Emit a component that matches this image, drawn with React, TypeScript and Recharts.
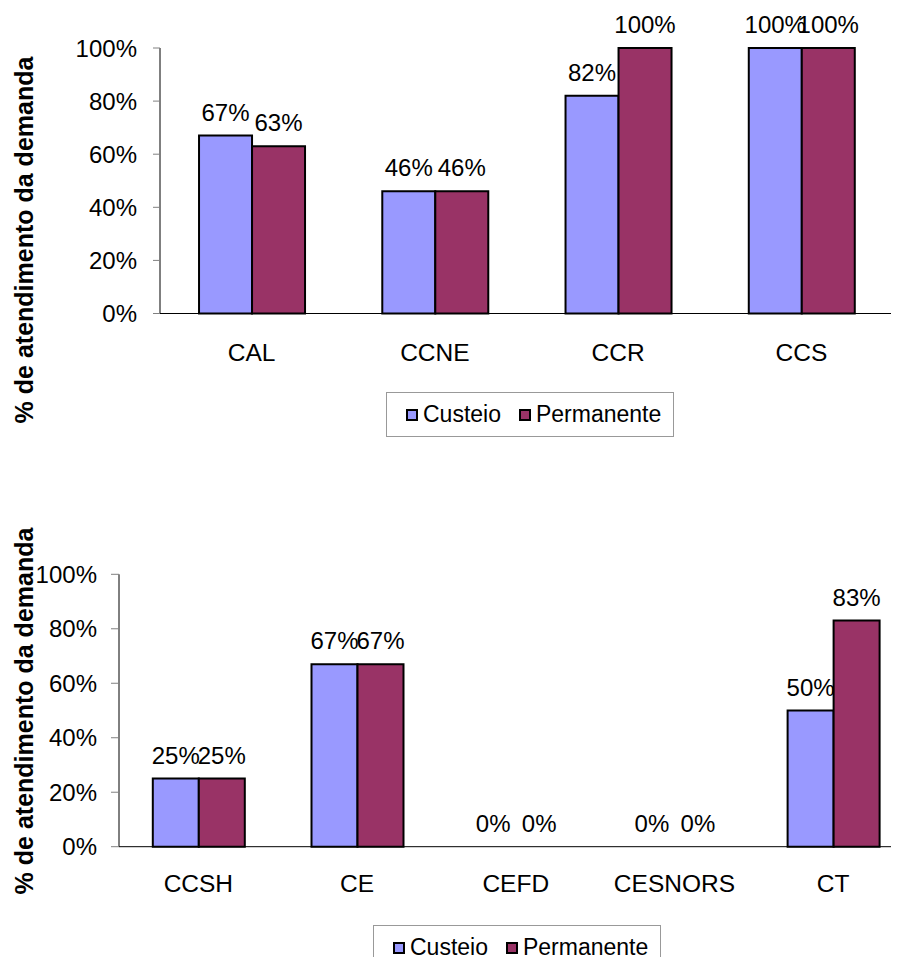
import React from "react";
import {
  BarChart,
  Bar,
  XAxis,
  YAxis,
  LabelList,
  Rectangle,
} from "recharts";

// dados de atendimento da demanda por centro
const centrosA = ["CAL", "CCNE", "CCR", "CCS"];
const custeioA = [0.67, 0.46, 0.82, 1.0];
const permanenteA = [0.63, 0.46, 1.0, 1.0];

const centrosB = ["CCSH", "CE", "CEFD", "CESNORS", "CT"];
const custeioB = [0.25, 0.67, 0, 0, 0.5];
const permanenteB = [0.25, 0.67, 0, 0, 0.83];

const yTicks = [0, 0.2, 0.4, 0.6, 0.8, 1];

const series = [
  { key: "custeio", nome: "Custeio", cor: "#9999FF" },
  { key: "permanente", nome: "Permanente", cor: "#993366" },
];

const FONT = '"Liberation Sans", Arial, sans-serif';
const tituloY = "% de atendimento da demanda";

const pct = (v: number) => `${Math.round(v * 100)}%`;

function montar(centros: string[], custeio: number[], permanente: number[]) {
  return centros.map((centro, i) => ({
    centro,
    custeio: custeio[i],
    permanente: permanente[i],
  }));
}

// barras de valor zero não desenham retângulo, mas mantêm o rótulo
const BarraForma = (props: any) =>
  props.height > 0.5 ? <Rectangle {...props} /> : <g />;

type GraficoProps = {
  centros: string[];
  custeio: number[];
  permanente: number[];
  width: number;
  height: number;
  margin: { top: number; right: number; bottom: number; left: number };
  yWidth: number;
  yTickSize: number;
  yTickMargin: number;
  xTickMargin: number;
};

function Grafico({
  centros,
  custeio,
  permanente,
  width,
  height,
  margin,
  yWidth,
  yTickSize,
  yTickMargin,
  xTickMargin,
}: GraficoProps) {
  const data = montar(centros, custeio, permanente);
  const divisoes = centros.map((_, i) => i).concat(centros.length);

  return (
    <BarChart
      width={width}
      height={height}
      data={data}
      margin={margin}
      barCategoryGap="21.3%"
      barGap={0}
    >
      {/* marcas entre categorias */}
      <XAxis
        xAxisId="div"
        type="number"
        domain={[0, centros.length]}
        ticks={divisoes}
        height={0}
        axisLine={false}
        tickSize={7}
        tickLine={{ stroke: "#808080" }}
        tickFormatter={() => ""}
      />
      <XAxis
        dataKey="centro"
        height={60}
        axisLine={{ stroke: "#000" }}
        tickLine={false}
        tickSize={6}
        tickMargin={xTickMargin}
        tick={{ fill: "#000", fontSize: 24.5, fontFamily: FONT }}
      />
      <YAxis
        width={yWidth}
        domain={[0, 1]}
        ticks={yTicks}
        axisLine={{ stroke: "#000" }}
        tickLine={{ stroke: "#808080" }}
        tickSize={yTickSize}
        tickMargin={yTickMargin}
        tickFormatter={pct}
        tick={{ fill: "#000", fontSize: 24, fontFamily: FONT }}
      />
      {series.map((s) => (
        <Bar
          key={s.key}
          dataKey={s.key}
          name={s.nome}
          fill={s.cor}
          stroke="#000"
          strokeWidth={2}
          minPointSize={0.01}
          shape={BarraForma}
          isAnimationActive={false}
        >
          <LabelList
            dataKey={s.key}
            position="top"
            offset={15}
            formatter={(v: number) => pct(v)}
            style={{ fill: "#000", fontSize: 24, fontFamily: FONT }}
          />
        </Bar>
      ))}
    </BarChart>
  );
}

function Legenda({ left, top }: { left: number; top: number }) {
  return (
    <div
      style={{
        position: "absolute",
        left,
        top,
        width: 288,
        height: 45,
        boxSizing: "border-box",
        border: "1px solid #999",
        display: "flex",
        alignItems: "center",
        paddingLeft: 19,
        fontFamily: FONT,
        fontSize: 23,
        color: "#000",
        background: "#fff",
      }}
    >
      {series.map((s, i) => (
        <div
          key={s.key}
          style={{
            display: "flex",
            alignItems: "center",
            marginLeft: i === 0 ? 0 : 18,
          }}
        >
          <span
            style={{
              width: 12,
              height: 12,
              boxSizing: "border-box",
              border: "2px solid #000",
              background: s.cor,
              marginRight: 5,
            }}
          />
          <span>{s.nome}</span>
        </div>
      ))}
    </div>
  );
}

function TituloY({ cx, cy }: { cx: number; cy: number }) {
  return (
    <div
      style={{
        position: "absolute",
        left: cx,
        top: cy,
        transform: "translate(-50%, -50%) rotate(-90deg)",
        whiteSpace: "nowrap",
        fontFamily: FONT,
        fontWeight: "bold",
        fontSize: 25,
        color: "#000",
      }}
    >
      {tituloY}
    </div>
  );
}

export default function App() {
  return (
    <div
      style={{
        position: "relative",
        width: 899,
        height: 965,
        margin: -8,
        overflow: "hidden",
        background: "#fff",
      }}
    >
      <div style={{ position: "absolute", left: 0, top: 0 }}>
        <Grafico
          centros={centrosA}
          custeio={custeioA}
          permanente={permanenteA}
          width={899}
          height={470}
          margin={{ top: 48, right: 6, bottom: 96.5, left: 0 }}
          yWidth={160}
          yTickSize={7}
          yTickMargin={16}
          xTickMargin={24}
        />
      </div>
      <TituloY cx={24} cy={240} />
      <Legenda left={386} top={392} />

      <div style={{ position: "absolute", left: 0, top: 480 }}>
        <Grafico
          centros={centrosB}
          custeio={custeioB}
          permanente={permanenteB}
          width={920}
          height={485}
          margin={{ top: 94.3, right: 7.5, bottom: 58.3, left: 0 }}
          yWidth={119}
          yTickSize={8}
          yTickMargin={14}
          xTickMargin={22}
        />
      </div>
      <TituloY cx={24} cy={711} />
      <Legenda left={373} top={925} />
    </div>
  );
}
